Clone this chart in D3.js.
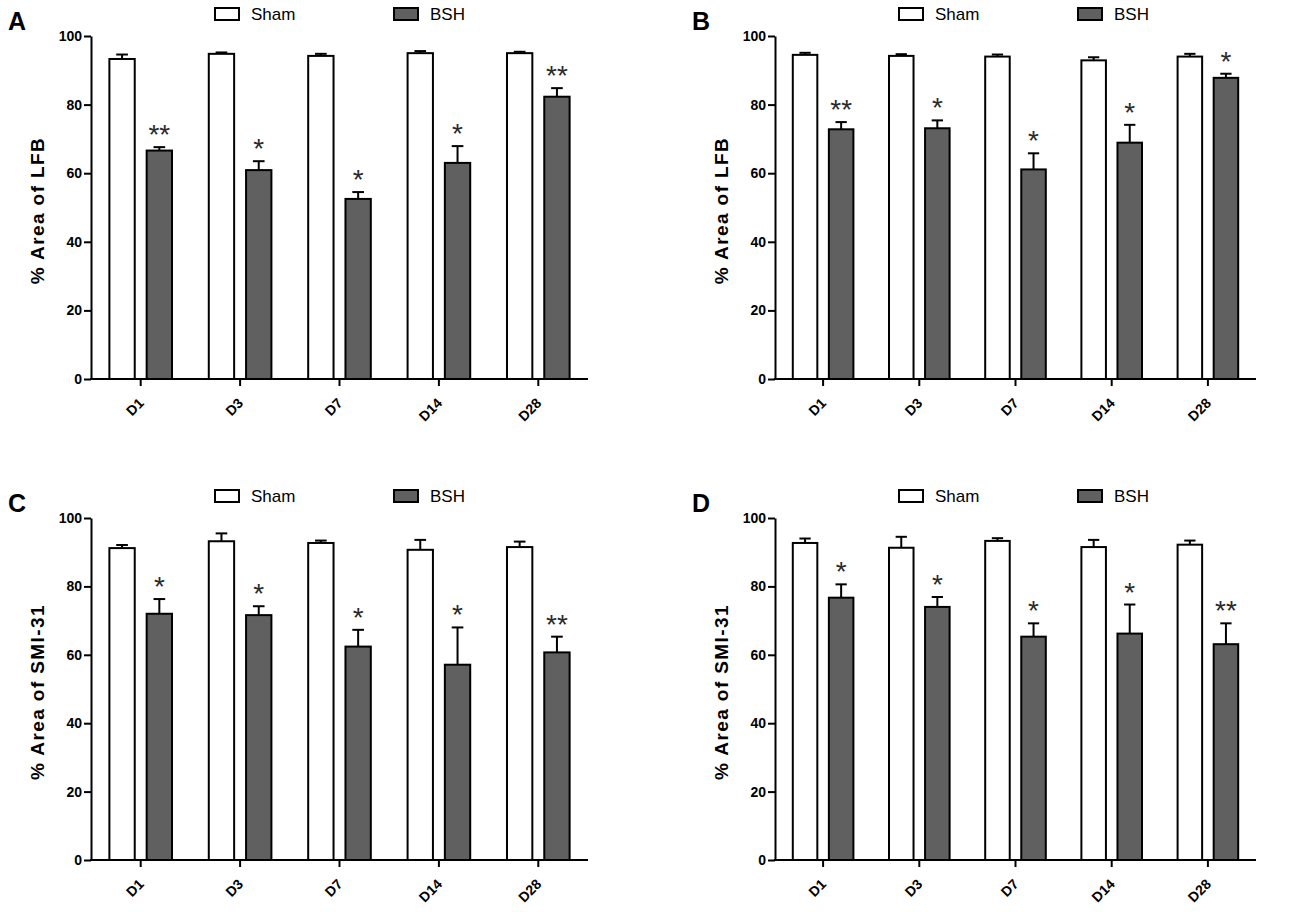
<!DOCTYPE html>
<html>
<head>
<meta charset="utf-8">
<title>LFB and SMI-31 area, Sham vs BSH</title>
<script src="https://cdn.jsdelivr.net/npm/d3@7"></script>
<style>
  body { margin: 0; background: #fff; }
  svg { font-family: Arial, "Liberation Sans", sans-serif; }
  .axis path, .axis line { stroke: #000; stroke-width: 2px; }
  .axis text { font-size: 14px; font-weight: bold; fill: #000; }
</style>
</head>
<body>
<script>
// categories and groups
var days = ["D1", "D3", "D7", "D14", "D28"];
var groups = ["Sham", "BSH"];
var yTicks = [0, 20, 40, 60, 80, 100];

// panel A - LFB
var aShamMean = [93.3, 94.8, 94.2, 95.0, 95.0];
var aShamErr  = [1.3, 0.4, 0.6, 0.6, 0.4];
var aBshMean  = [66.6, 60.9, 52.5, 63.0, 82.3];
var aBshErr   = [1.0, 2.6, 2.0, 4.9, 2.5];
var aStars    = ["**", "*", "*", "*", "**"];

// panel B - LFB
var bShamMean = [94.5, 94.2, 94.0, 92.9, 94.0];
var bShamErr  = [0.6, 0.5, 0.6, 0.9, 0.8];
var bBshMean  = [72.8, 73.1, 61.1, 68.9, 87.8];
var bBshErr   = [2.1, 2.3, 4.7, 5.2, 1.2];
var bStars    = ["**", "*", "*", "*", "*"];

// panel C - SMI-31
var cShamMean = [91.2, 93.2, 92.7, 90.7, 91.5];
var cShamErr  = [0.9, 2.3, 0.7, 2.9, 1.6];
var cBshMean  = [72.0, 71.6, 62.4, 57.1, 60.7];
var cBshErr   = [4.3, 2.6, 4.9, 10.9, 4.6];
var cStars    = ["*", "*", "*", "*", "**"];

// panel D - SMI-31
var dShamMean = [92.7, 91.3, 93.3, 91.5, 92.2];
var dShamErr  = [1.3, 3.2, 0.8, 2.1, 1.2];
var dBshMean  = [76.7, 74.0, 65.3, 66.2, 63.1];
var dBshErr   = [3.9, 2.9, 3.9, 8.5, 6.1];
var dStars    = ["*", "*", "*", "*", "**"];

var fills = {Sham: "#ffffff", BSH: "#606060"};

// layout of the four panels
var panels = [
  {letter: "A", label: "% Area of LFB", left: 91, right: 588, top: 36, bottom: 379,
   sham: aShamMean, shamErr: aShamErr, bsh: aBshMean, bshErr: aBshErr, stars: aStars},
  {letter: "B", label: "% Area of LFB", left: 775, right: 1256, top: 36, bottom: 379,
   sham: bShamMean, shamErr: bShamErr, bsh: bBshMean, bshErr: bBshErr, stars: bStars},
  {letter: "C", label: "% Area of SMI-31", left: 91, right: 588, top: 518, bottom: 860,
   sham: cShamMean, shamErr: cShamErr, bsh: cBshMean, bshErr: cBshErr, stars: cStars},
  {letter: "D", label: "% Area of SMI-31", left: 775, right: 1256, top: 518, bottom: 860,
   sham: dShamMean, shamErr: dShamErr, bsh: dBshMean, bshErr: dBshErr, stars: dStars}
];

var svg = d3.select("body").append("svg")
    .attr("width", 1300)
    .attr("height", 912);

panels.forEach(function(p) {
  var g = svg.append("g");

  var x = d3.scaleBand().domain(days).range([p.left, p.right]);
  var step = x.step();
  var xg = d3.scaleBand().domain(groups)
      .range([0.185 * step, 0.815 * step]).paddingInner(0.32);
  var y = d3.scaleLinear().domain([0, 100]).range([p.bottom, p.top]);

  // rows: one per bar
  var rows = [];
  days.forEach(function(d, i) {
    rows.push({day: d, group: "Sham", mean: p.sham[i], err: p.shamErr[i], star: null});
    rows.push({day: d, group: "BSH", mean: p.bsh[i], err: p.bshErr[i], star: p.stars[i]});
  });

  var bw = xg.bandwidth();

  // error bars (upper only)
  var eb = g.append("g").attr("class", "errbars");
  eb.selectAll("line.stem").data(rows).enter().append("line")
      .attr("x1", function(d) { return x(d.day) + xg(d.group) + bw / 2; })
      .attr("x2", function(d) { return x(d.day) + xg(d.group) + bw / 2; })
      .attr("y1", function(d) { return y(d.mean); })
      .attr("y2", function(d) { return y(d.mean + d.err); })
      .attr("stroke", "#000").attr("stroke-width", 2);
  eb.selectAll("line.cap").data(rows).enter().append("line")
      .attr("x1", function(d) { return x(d.day) + xg(d.group) + bw / 2 - bw * 0.23; })
      .attr("x2", function(d) { return x(d.day) + xg(d.group) + bw / 2 + bw * 0.23; })
      .attr("y1", function(d) { return y(d.mean + d.err); })
      .attr("y2", function(d) { return y(d.mean + d.err); })
      .attr("stroke", "#000").attr("stroke-width", 2);

  // bars
  g.append("g").selectAll("rect").data(rows).enter().append("rect")
      .attr("x", function(d) { return x(d.day) + xg(d.group); })
      .attr("y", function(d) { return y(d.mean); })
      .attr("width", bw)
      .attr("height", function(d) { return y(0) - y(d.mean); })
      .attr("fill", function(d) { return fills[d.group]; })
      .attr("stroke", "#000")
      .attr("stroke-width", 2);

  // significance stars
  g.append("g").selectAll("text").data(rows.filter(function(d) { return d.star; }))
    .enter().append("text")
      .attr("x", function(d) { return x(d.day) + xg(d.group) + bw / 2; })
      .attr("y", function(d) { return y(d.mean + d.err) - 19 + 16; })
      .attr("text-anchor", "middle")
      .style("font-size", "28px")
      .attr("fill", "#2a2a2a")
      .text(function(d) { return d.star; });

  // axes
  var yAxis = d3.axisLeft(y).tickValues(yTicks).tickSize(7).tickSizeOuter(0).tickPadding(2);
  g.append("g").attr("class", "axis")
      .attr("transform", "translate(" + p.left + ",0)")
      .call(yAxis);

  var xAxis = d3.axisBottom(x).tickSize(7).tickSizeOuter(0).tickFormat("");
  var xa = g.append("g").attr("class", "axis")
      .attr("transform", "translate(0," + p.bottom + ")")
      .call(xAxis);
  xa.select(".domain").attr("d", "M" + (p.left - 1) + ",0H" + p.right);

  g.append("g").selectAll("text").data(days).enter().append("text")
      .attr("transform", function(d) {
        return "translate(" + (x(d) + step / 2 + 4) + "," + (p.bottom + 25) + ") rotate(-45)";
      })
      .attr("text-anchor", "end")
      .style("font-size", "14px")
      .style("font-weight", "bold")
      .text(function(d) { return d; });

  // y axis label
  g.append("text")
      .attr("transform", "translate(" + (p.left - 47) + "," + ((p.top + p.bottom) / 2 + 3) + ") rotate(-90)")
      .attr("text-anchor", "middle")
      .style("font-size", "19px")
      .style("letter-spacing", "1.4px")
      .style("font-weight", "bold")
      .text(p.label);

  // panel letter
  g.append("text")
      .attr("x", p.left - 83)
      .attr("y", p.top - 6)
      .style("font-size", "25px")
      .style("font-weight", "bold")
      .text(p.letter);

  // legend
  var leg = g.append("g");
  [{name: "Sham", dx: 124}, {name: "BSH", dx: 303}].forEach(function(l) {
    leg.append("rect")
        .attr("x", p.left + l.dx)
        .attr("y", p.top - 28)
        .attr("width", 24)
        .attr("height", 12)
        .attr("fill", fills[l.name])
        .attr("stroke", "#000")
        .attr("stroke-width", 2);
    leg.append("text")
        .attr("x", p.left + l.dx + 36)
        .attr("y", p.top - 16)
        .style("font-size", "17px")
        .text(l.name);
  });
});
</script>
</body>
</html>
